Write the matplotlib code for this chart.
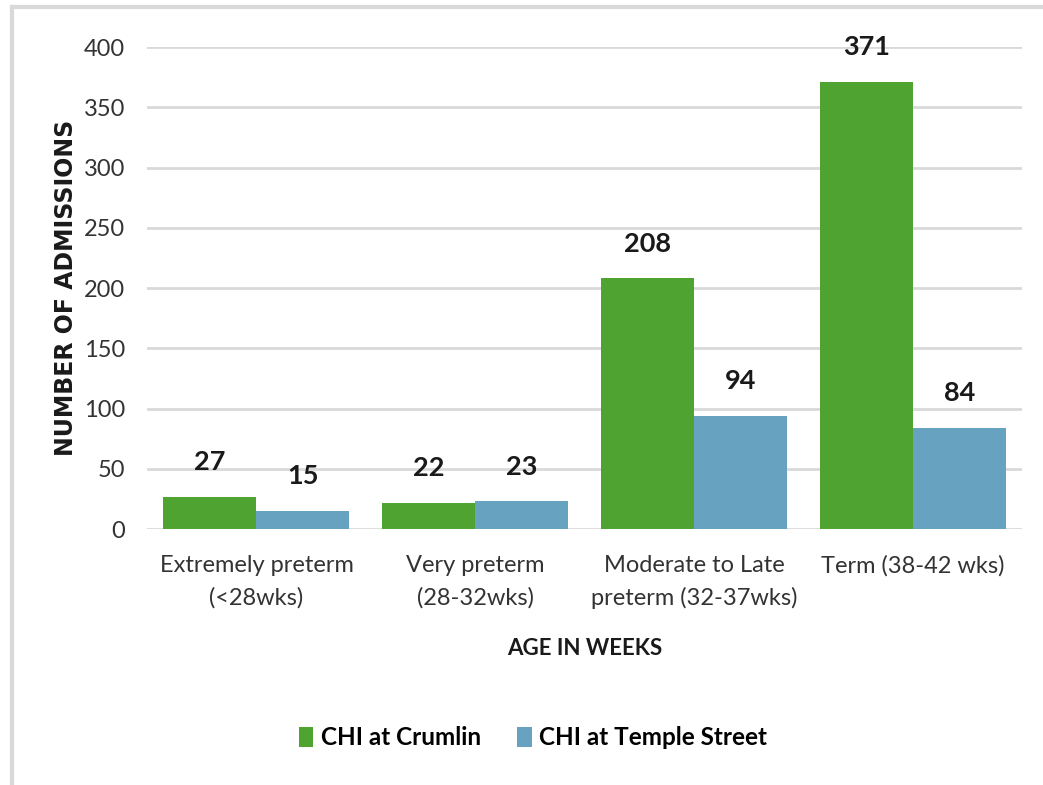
import numpy as np
import matplotlib
matplotlib.use("Agg")
import matplotlib.pyplot as plt
from matplotlib.lines import Line2D

categories = ["Extremely preterm\n(<28wks)", "Very preterm\n(28-32wks)",
              "Moderate to Late\npreterm (32-37wks)", "Term (38-42 wks)"]
crumlin = [27, 22, 208, 371]
temple = [15, 23, 94, 84]
series_names = ["CHI at Crumlin", "CHI at Temple Street"]
yticks = [0, 50, 100, 150, 200, 250, 300, 350, 400]

green = '#4ea331'
blue = '#67a3c0'
fam = ['Lato', 'DejaVu Sans']

fig = plt.figure(figsize=(10.43, 7.85), dpi=100)
ax = fig.add_axes([0.141, 0.326, 0.839, 0.614])

x = np.arange(len(categories))
w = 0.425
b1 = ax.bar(x - w/2, crumlin, w, color=green, label=series_names[0], zorder=3)
b2 = ax.bar(x + w/2, temple, w, color=blue, label=series_names[1], zorder=3)

for bars, vals in ((b1, crumlin), (b2, temple)):
    for r, v in zip(bars, vals):
        ax.annotate(str(v), (r.get_x() + r.get_width()/2, v), xytext=(0, 25),
                    textcoords='offset points', ha='center', va='center',
                    fontsize=19.5, fontweight='bold', family=fam, color='#1a1a1a')

ax.set_xlim(-0.5, len(categories) - 0.5)
ax.set_ylim(0, 400)
ax.set_yticks(yticks)
ax.set_xticks(x)
ax.set_xticklabels(categories, fontsize=17, family=fam, color='#333333',
                   linespacing=1.6)
ax.tick_params(axis='both', length=0)
ax.tick_params(axis='y', pad=16, labelsize=17, labelcolor='#333333')
ax.tick_params(axis='x', pad=19)
for lab in ax.get_yticklabels():
    lab.set_family(fam)
ax.grid(axis='y', color='#d9d9d9', lw=2, zorder=0)
for s in ax.spines.values():
    s.set_visible(False)

ax.set_ylabel('NUMBER OF ADMISSIONS', fontsize=17, fontweight='bold',
              color='#1a1a1a')
ax.yaxis.set_label_coords(-0.079, 0.5)
ax.set_xlabel('AGE IN WEEKS', fontsize=16, fontweight='bold', family=fam,
              color='#1a1a1a')
ax.xaxis.set_label_coords(0.5, -0.225)

leg = fig.legend(handles=[b1, b2], loc='center', bbox_to_anchor=(0.511, 0.06),
                 ncol=2, frameon=False, handlelength=0.6, handleheight=0.85,
                 handletextpad=0.3, columnspacing=1.5,
                 prop={'family': fam, 'weight': 'bold', 'size': 17.5})

# frame lines on left and top of the image
fig.add_artist(Line2D([12/1043, 12/1043], [0, 1 - 7/785], transform=fig.transFigure,
                      color='#d9d9d9', lw=3))
fig.add_artist(Line2D([12/1043, 1], [1 - 7/785, 1 - 7/785], transform=fig.transFigure,
                      color='#d9d9d9', lw=3))

fig.savefig('out.png', dpi=100)
